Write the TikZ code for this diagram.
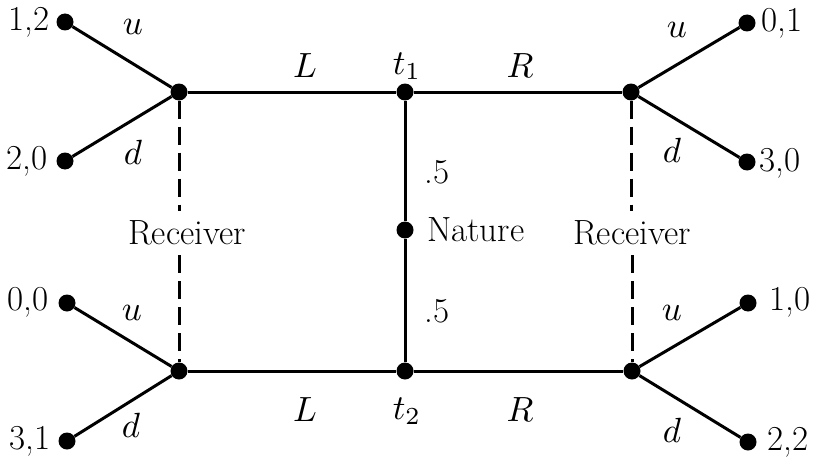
\documentclass[tikz,border=0pt]{standalone}
\usepackage{graphicx}
\newcommand\mth[1]{{\fontsize{10}{12}\selectfont\scalebox{3.5}{$#1$}}}
\begin{document}
\begin{tikzpicture}[x=1pt,y=-1pt,
  dot/.style={circle,fill,inner sep=0pt,minimum size=17pt},
  edge/.style={line width=3pt},
  info/.style={line width=3pt,dash pattern=on 18pt off 8pt},
  txt/.style={font=\fontsize{35}{42}\selectfont,inner sep=0pt}]
\useasboundingbox (0,0) rectangle (821,460);
% decision nodes
\node[dot] (t1) at (405,92) {};
\node[dot] (nat) at (405,230) {};
\node[dot] (t2) at (405,371) {};
\node[dot] (rl1) at (179,92) {};
\node[dot] (rr1) at (631,92) {};
\node[dot] (rl2) at (179,371) {};
\node[dot] (rr2) at (632,371) {};
% terminal nodes
\node[dot] (a) at (65,22) {};
\node[dot] (b) at (65,161) {};
\node[dot] (c) at (747,23) {};
\node[dot] (d) at (747,162) {};
\node[dot] (e) at (67,303) {};
\node[dot] (f) at (67,441) {};
\node[dot] (g) at (748,303) {};
\node[dot] (h) at (748,442) {};
% payoffs
\node[txt,anchor=east] (pa) at (50,22) {1,2};
\node[txt,anchor=east] (pb) at (48,161) {2,0};
\node[txt,anchor=west] (pc) at (761,23) {0,1};
\node[txt,anchor=west] (pd) at (759,163) {3,0};
\node[txt,anchor=east] (pe) at (49,302) {0,0};
\node[txt,anchor=east] (pf) at (51,441) {3,1};
\node[txt,anchor=west] (pg) at (769,302) {1,0};
\node[txt,anchor=west] (ph) at (767,442) {2,2};
% edges
\draw[edge] (rl1) -- (t1) -- (rr1);
\draw[edge] (rl2) -- (t2) -- (rr2);
\draw[edge] (t1) -- (nat) -- (t2);
\draw[edge] (a) -- (rl1) -- (b);
\draw[edge] (c) -- (rr1) -- (d);
\draw[edge] (e) -- (rl2) -- (f);
\draw[edge] (g) -- (rr2) -- (h);
% labels
\node[txt] (lL1) at (305,66) {\mth{L}};
\node[txt] (lR1) at (520,66) {\mth{R}};
\node[txt] (lt1) at (407,66) {\mth{t_1}};
\node[txt] (lL2) at (305,410) {\mth{L}};
\node[txt] (lR2) at (520,410) {\mth{R}};
\node[txt] (lt2) at (407,411) {\mth{t_2}};
\node[txt] (p1) at (437,172) {.5};
\node[txt] (p2) at (437,311) {.5};
\node[txt,anchor=west] (natl) at (427,230) {Nature};
\node[txt] (lu1) at (133,27) {\mth{u}};
\node[txt] (ld1) at (133,152) {\mth{d}};
\node[txt] (lu2) at (677,30) {\mth{u}};
\node[txt] (ld2) at (672,150) {\mth{d}};
\node[txt] (lu3) at (132,313) {\mth{u}};
\node[txt] (ld3) at (131,425) {\mth{d}};
\node[txt] (lu4) at (672,313) {\mth{u}};
\node[txt] (ld4) at (672,430) {\mth{d}};
% information sets
\node[txt,inner sep=10pt] (recl) at (187,233) {Receiver};
\node[txt,inner sep=10pt] (recr) at (632,233) {Receiver};
\draw[info] (rl1) -- (rl1 |- recl.north);
\draw[info] (rl2 |- recl.south) -- (rl2);
\draw[info] (rr1) -- (rr1 |- recr.north);
\draw[info] (rr2 |- recr.south) -- (rr2);
\end{tikzpicture}
\end{document}
